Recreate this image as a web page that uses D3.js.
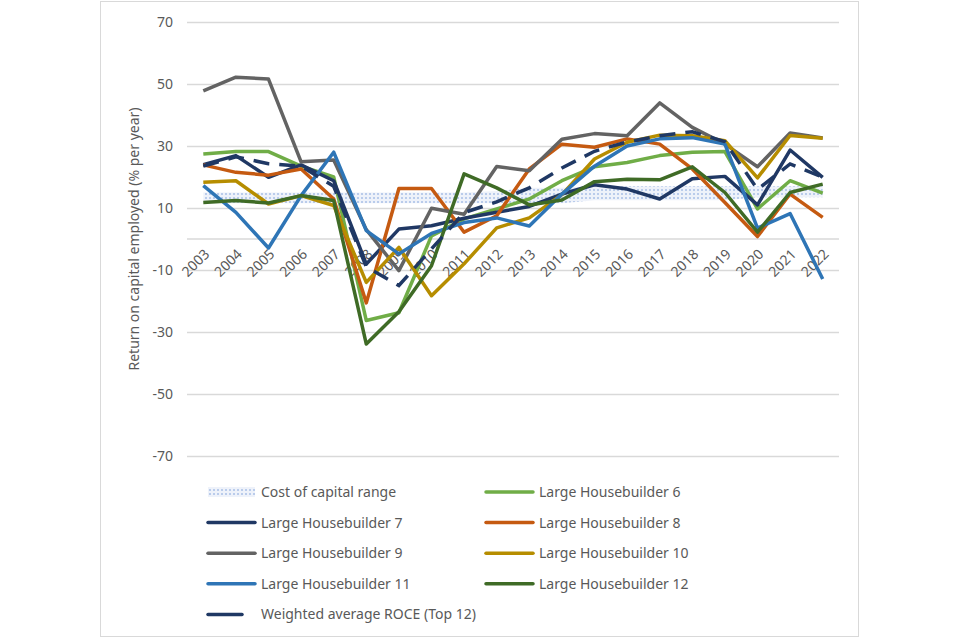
<!DOCTYPE html>
<html>
    <head>
        <meta charset="utf-8">
        <title>ROCE chart</title>
        <script src="https://d3js.org/d3.v7.min.js"></script>
        <style>
            body { margin: 0; background: #ffffff; }
            text { font-family: 'Noto Sans', 'Open Sans', sans-serif; fill: #595959; }
        </style>
    </head>

    <body>
        <script type = 'text/javascript'>

            var years = ['2003', '2004', '2005', '2006', '2007', '2008', '2009', '2010', '2011', '2012',
                         '2013', '2014', '2015', '2016', '2017', '2018', '2019', '2020', '2021', '2022']

            var costLow  = [11.5, 11.5, 11.5, 11.5, 11.5, 11.5, 11.5, 11.5, 11.5, 11.5, 11.5, 11.5, 12.5, 12.5, 12.5, 12.5, 12.5, 13.5, 13.5, 13.5]
            var costHigh = [15, 15, 15, 15, 15, 15, 15, 15, 15, 15.5, 16.5, 16.5, 17, 17, 17, 17, 17, 17, 17, 17]

            var lh6  = [27.4, 28.2, 28.2, 23.5, 20, -26.3, -23.8, 1, 6.5, 9.7, 12.9, 18.8, 23.3, 24.7, 26.9, 28, 28.2, 9.7, 18.8, 14.8]
            var lh7  = [24, 26.9, 19.9, 23.9, 18.8, -8.1, 3.2, 4.3, 6.7, 8.6, 10.5, 14.5, 17.5, 16.1, 12.9, 19.4, 20.2, 11, 28.7, 19.9]
            var lh8  = [23.9, 21.5, 20.6, 22.6, 12.9, -20.6, 16.3, 16.3, 2.2, 7.5, 22.6, 30.6, 29.6, 32.3, 30.6, 22.6, 11.8, 0.8, 14.5, 7]
            var lh9  = [47.8, 52.2, 51.6, 24.9, 25.5, 3, -10.2, 9.9, 8, 23.4, 22, 32.2, 34, 33.3, 43.9, 36, 30.6, 23.3, 34.2, 32.6]
            var lh10 = [18.3, 18.8, 11.3, 14, 10.8, -14, -2.7, -18.3, -8, 3.6, 6.8, 14.3, 25.8, 31.2, 33.5, 33.3, 31.7, 19.7, 33.4, 32.5]
            var lh11 = [17.2, 8.6, -2.9, 14, 28, 2.7, -4.8, 1.8, 5.3, 6.8, 4.2, 14.5, 23.5, 30, 32.3, 32.7, 30.6, 3.5, 8.2, -12.9]
            var lh12 = [11.8, 12.4, 11.6, 14, 12.4, -33.9, -23.5, -8.6, 21, 16.5, 11, 12.6, 18.5, 19.3, 19.1, 23.3, 15, 2.2, 15, 17.7]
            var weighted = [23.5, 26.5, 24.3, 23.5, 17, -9, -15, -3.2, 8.5, 12, 16.5, 22.9, 28.3, 31.3, 33.3, 34.6, 31.4, 16, 24.2, 19.9]

            var yTicks = [-70, -50, -30, -10, 10, 30, 50, 70]

            var series = [
                { name: 'Large Housebuilder 6', values: lh6, color: '#70ad47' },
                { name: 'Large Housebuilder 7', values: lh7, color: '#203864' },
                { name: 'Large Housebuilder 8', values: lh8, color: '#c55a11' },
                { name: 'Large Housebuilder 9', values: lh9, color: '#636363' },
                { name: 'Large Housebuilder 10', values: lh10, color: '#b68d00' },
                { name: 'Large Housebuilder 11', values: lh11, color: '#2e75b6' },
                { name: 'Large Housebuilder 12', values: lh12, color: '#3f6b26' }
            ]

            var w = 960
            var h = 640
            var plotLeft = 187
            var plotRight = 839
            var plotTop = 22
            var plotBottom = 456

            var svg = d3.select('body').append('svg').attr('width', w).attr('height', h)

            // dotted fill for the cost of capital band
            var pattern = svg.append('defs').append('pattern')
                .attr('id', 'dots')
                .attr('width', 4)
                .attr('height', 4)
                .attr('patternUnits', 'userSpaceOnUse')
            pattern.append('rect').attr('width', 4).attr('height', 4).attr('fill', '#eef2fa')
            pattern.append('circle').attr('cx', 2).attr('cy', 2).attr('r', 1).attr('fill', '#a9bfe6')

            svg.append('rect')
                .attr('x', 100.5).attr('y', 1.5)
                .attr('width', 758).attr('height', 635)
                .attr('fill', 'none')
                .attr('stroke', '#d9d9d9')

            var xScale = d3.scalePoint()
                .domain(years)
                .range([plotLeft, plotRight])
                .padding(0.5)

            var yScale = d3.scaleLinear()
                .domain([-70, 70])
                .range([plotBottom, plotTop])

            var yAxis = svg.append('g')
                .attr('transform', 'translate(' + plotLeft + ',0)')
                .call(d3.axisLeft(yScale)
                    .tickValues(yTicks)
                    .tickFormat(function(d) { return String(d) })
                    .tickSize(-(plotRight - plotLeft))
                    .tickPadding(14))
            yAxis.select('.domain').remove()
            yAxis.selectAll('line').attr('stroke', '#d9d9d9').attr('stroke-width', 1.3)
            yAxis.selectAll('text')
                .attr('font-size', '14px')
                .style('font-family', "'Noto Sans', sans-serif")
                .attr('fill', '#595959')

            // category axis at zero
            svg.append('line')
                .attr('x1', plotLeft).attr('x2', plotRight)
                .attr('y1', yScale(0)).attr('y2', yScale(0))
                .attr('stroke', '#d9d9d9')
                .attr('stroke-width', 1.3)

            svg.append('text')
                .text('Return on capital employed (% per year)')
                .attr('transform', 'translate(139,' + yScale(0) + ') rotate(-90)')
                .attr('text-anchor', 'middle')
                .attr('font-size', '14px')

            var band = d3.area()
                .x(function(d, i) { return xScale(years[i]) })
                .y0(function(d, i) { return yScale(costLow[i]) })
                .y1(function(d, i) { return yScale(costHigh[i]) })

            svg.append('path')
                .datum(costHigh)
                .attr('d', band)
                .attr('fill', 'url(#dots)')

            svg.selectAll('.xlabel')
                .data(years)
                .enter()
                .append('text')
                .attr('class', 'xlabel')
                .text(function(data) { return data })
                .attr('transform', function(data) {
                    return 'translate(' + (xScale(data) + 7) + ',' + (yScale(0) + 16) + ') rotate(-45)'
                })
                .attr('text-anchor', 'end')
                .attr('font-size', '14px')

            var line = d3.line()
                .x(function(d, i) { return xScale(years[i]) })
                .y(function(d) { return yScale(d) })

            svg.selectAll('.series')
                .data(series)
                .enter()
                .append('path')
                .attr('class', 'series')
                .attr('d', function(data) { return line(data.values) })
                .attr('fill', 'none')
                .attr('stroke', function(data) { return data.color })
                .attr('stroke-width', 3.5)
                .attr('stroke-linejoin', 'round')

            svg.append('path')
                .datum(weighted)
                .attr('d', line)
                .attr('fill', 'none')
                .attr('stroke', '#1f3864')
                .attr('stroke-width', 3.5)
                .attr('stroke-dasharray', '16,10')

            // legend
            var legendItems = [
                { name: 'Cost of capital range', type: 'band', col: 0, row: 0 },
                { name: 'Large Housebuilder 6', color: '#70ad47', col: 1, row: 0 },
                { name: 'Large Housebuilder 7', color: '#203864', col: 0, row: 1 },
                { name: 'Large Housebuilder 8', color: '#c55a11', col: 1, row: 1 },
                { name: 'Large Housebuilder 9', color: '#636363', col: 0, row: 2 },
                { name: 'Large Housebuilder 10', color: '#b68d00', col: 1, row: 2 },
                { name: 'Large Housebuilder 11', color: '#2e75b6', col: 0, row: 3 },
                { name: 'Large Housebuilder 12', color: '#3f6b26', col: 1, row: 3 },
                { name: 'Weighted average ROCE (Top 12)', color: '#1f3864', type: 'dash', col: 0, row: 4 }
            ]

            var legend = svg.selectAll('.legend')
                .data(legendItems)
                .enter()
                .append('g')
                .attr('class', 'legend')
                .attr('transform', function(data) {
                    return 'translate(' + (208 + data.col * 278) + ',' + (492 + data.row * 30.6) + ')'
                })

            legend.filter(function(data) { return data.type == 'band' })
                .append('rect')
                .attr('x', 0).attr('y', -5)
                .attr('width', 47).attr('height', 10)
                .attr('fill', 'url(#dots)')

            legend.filter(function(data) { return data.type != 'band' })
                .append('line')
                .attr('x1', 0)
                .attr('x2', function(data) { return data.type == 'dash' ? 34 : 47 })
                .attr('y1', 0).attr('y2', 0)
                .attr('stroke', function(data) { return data.color })
                .attr('stroke-width', 3.5)
                .attr('stroke-linecap', 'round')

            legend.append('text')
                .text(function(data) { return data.name })
                .attr('x', 53)
                .attr('y', 5)
                .attr('font-size', '14px')

        </script>
    </body>
</html>
